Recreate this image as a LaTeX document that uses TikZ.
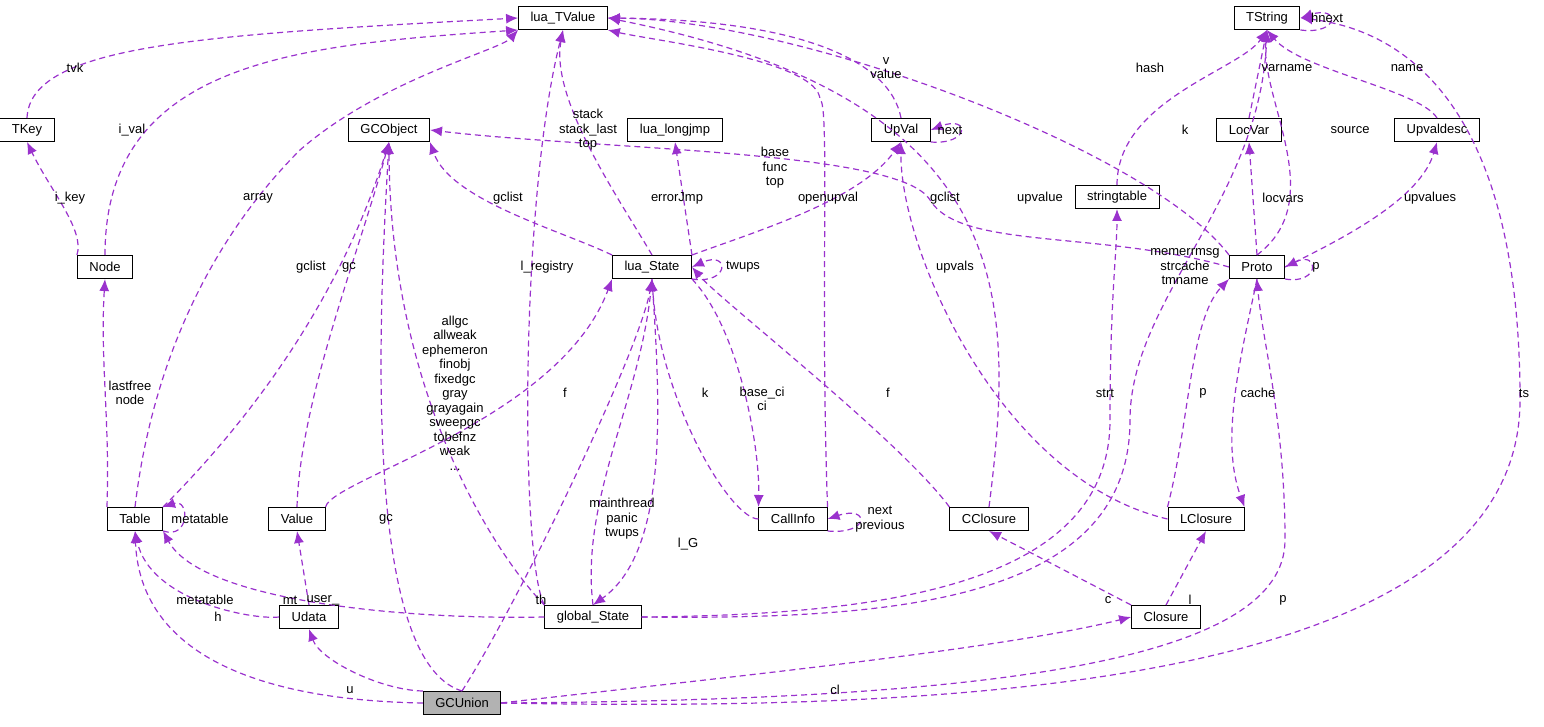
\documentclass[tikz,border=0pt]{standalone}
\usepackage{fontspec}
\setmainfont{Liberation Sans}
\usetikzlibrary{arrows.meta}
\definecolor{pe}{HTML}{9A32CD}
\begin{document}
\begin{tikzpicture}[x=1pt,y=-1pt,
 n/.style={draw,fill=white,line width=1pt,minimum height=23pt,inner xsep=12pt,inner ysep=0pt,font=\fontsize{13}{14.5}\selectfont},
 e/.style={pe,line width=1.2pt,dash pattern=on 6pt off 4pt,-{Latex[length=12pt,width=10pt]}},
 l/.style={font=\fontsize{13}{14.5}\selectfont,align=center,inner sep=0pt}]
\useasboundingbox (0,0) rectangle (1544,727);
\node[n] (tv) at (563,18) {lua\_TValue};
\node[n] (ts) at (1267,18) {TString};
\node[n] (tkey) at (27,130) {TKey};
\node[n] (gco) at (389,130) {GCObject};
\node[n] (lj) at (675,130) {lua\_longjmp};
\node[n] (uv) at (901,130) {UpVal};
\node[n] (lv) at (1249,130) {LocVar};
\node[n] (ud) at (1437,130) {Upvaldesc};
\node[n] (st) at (1117,197) {stringtable};
\node[n] (node) at (105,267) {Node};
\node[n] (ls) at (652,267) {lua\_State};
\node[n] (pr) at (1257,267) {Proto};
\node[n] (tab) at (135,519) {Table};
\node[n] (val) at (297,519) {Value};
\node[n] (ci) at (793,519) {CallInfo};
\node[n] (cc) at (989,519) {CClosure};
\node[n] (lc) at (1206,519) {LClosure};
\node[n] (udt) at (309,617) {Udata};
\node[n] (gs) at (593,617) {global\_State};
\node[n] (cl) at (1166,617) {Closure};
\node[n,fill=black!30] (gu) at (462,703) {GCUnion};

\draw[e] (tkey.north) .. controls (30,45) and (200,35) .. (tv.west);
\draw[e] (node.north) .. controls (105,60) and (300,45) .. (tv.south west);
\draw[e] (node.north west) .. controls (85,230) and (50,190) .. (tkey.south);
\draw[e] (tab.north west) .. controls (110,420) and (100,360) .. (node.south);
\draw[e] (tab.north) .. controls (150,380) and (200,250) .. (300,150) .. controls (380,80) and (500,50) .. (tv.south west);
\draw[e] (tab.north east) .. controls (250,420) and (340,300) .. (gco.south);
\draw[e] (tab.south east) .. controls (190,540) and (190,498) .. (tab.north east);
\draw[e] (val.north) .. controls (300,400) and (360,250) .. (gco.south);
\draw[e] (val.north east) .. controls (330,480) and (560,420) .. (ls.south west);
\draw[e] (udt.west) .. controls (250,620) and (150,600) .. (tab.south);
\draw[e] (udt.north) -- (val.south);
\draw[e] (gs.west) .. controls (400,620) and (200,600) .. (tab.south east);
\draw[e] (gs.north west) .. controls (500,560) and (390,400) .. (gco.south);
\draw[e] (gs.north west) .. controls (520,560) and (520,200) .. (tv.south);
\draw[e] (gs.north) .. controls (580,500) and (640,400) .. (ls.south);
\draw[e] (ls.south) .. controls (660,400) and (670,550) .. (gs.north);
\draw[e] (gs.east) .. controls (900,620) and (1130,600) .. (1130,420) .. controls (1130,300) and (1260,200) .. (ts.south);
\draw[e] (gs.east) .. controls (900,615) and (1110,580) .. (1110,420) .. controls (1110,300) and (1117,250) .. (st.south);
\draw[e] (ls.north) .. controls (620,200) and (550,100) .. (tv.south);
\draw[e] (ls.north west) .. controls (560,230) and (450,200) .. (gco.south east);
\draw[e] (ls.north east) -- (lj.south);
\draw[e] (ls.north east) .. controls (760,230) and (860,200) .. (uv.south);
\draw[e] (ls.south east) .. controls (730,285) and (730,250) .. (ls.east);
\draw[e] (ls.south east) .. controls (740,330) and (760,450) .. (ci.north west);
\draw[e] (ci.west) .. controls (730,519) and (660,400) .. (ls.south);
\draw[e] (ci.north east) .. controls (820,300) and (830,100) .. (820,100) .. controls (820,60) and (650,40) .. (tv.south east);
\draw[e] (ci.south east) .. controls (870,535) and (870,505) .. (ci.east);
\draw[e] (cc.north west) .. controls (900,440) and (720,300) .. (ls.east);
\draw[e] (cc.north) .. controls (1015,300) and (1020,100) .. (tv.east);
\draw[e] (uv.north) .. controls (890,60) and (800,20) .. (tv.east);
\draw[e] (uv.south east) .. controls (970,145) and (970,115) .. (uv.east);
\draw[e] (lc.west) .. controls (1000,480) and (900,250) .. (uv.south);
\draw[e] (lc.north west) .. controls (1190,420) and (1190,320) .. (pr.south west);
\draw[e] (pr.south) .. controls (1240,360) and (1220,440) .. (lc.north east);
\draw[e] (pr.west) .. controls (1100,230) and (960,250) .. (930,200) .. controls (900,150) and (600,150) .. (gco.east);
\draw[e] (pr.north west) .. controls (1150,150) and (800,20) .. (tv.east);
\draw[e] (pr.north) .. controls (1330,200) and (1260,100) .. (ts.south);
\draw[e] (pr.north) -- (lv.south);
\draw[e] (pr.east) .. controls (1340,240) and (1420,200) .. (ud.south);
\draw[e] (pr.south east) .. controls (1320,285) and (1320,250) .. (pr.east);
\draw[e] (lv.north) -- (ts.south);
\draw[e] (ud.north) .. controls (1420,90) and (1300,70) .. (ts.south);
\draw[e] (st.north) .. controls (1117,100) and (1240,70) .. (ts.south);
\draw[e] (ts.south east) .. controls (1340,35) and (1340,5) .. (ts.east);
\draw[e] (cl.north west) -- (cc.south);
\draw[e] (cl.north) -- (lc.south);
\draw[e] (gu.west) .. controls (250,700) and (140,650) .. (tab.south);
\draw[e] (gu.north west) .. controls (380,690) and (320,660) .. (udt.south);
\draw[e] (gu.north) .. controls (360,660) and (380,300) .. (gco.south);
\draw[e] (gu.north) .. controls (520,600) and (640,350) .. (ls.south);
\draw[e] (gu.east) .. controls (700,680) and (1000,650) .. (cl.west);
\draw[e] (gu.east) .. controls (1000,700) and (1285,660) .. (1285,540) .. controls (1285,420) and (1262,340) .. (pr.south);
\draw[e] (gu.east) .. controls (900,710) and (1520,700) .. (1520,400) .. controls (1520,100) and (1400,30) .. (ts.east);

\node[l] (a1) at (75,68) {tvk};
\node[l] (a2) at (132,130) {i\_val};
\node[l] (a3) at (70,198) {i\_key};
\node[l] (a4) at (130,393) {lastfree\\node};
\node[l] (a5) at (258,198) {array};
\node[l] (a6) at (311,267) {gclist};
\node[l] (a7) at (200,519) {metatable};
\node[l] (a8) at (349,267) {gc};
\node[l] (a9) at (565,393) {f};
\node[l] (a10) at (205,600) {metatable};
\node[l] (a11) at (323,600) {user\_};
\node[l] (a12) at (290,600) {mt};
\node[l] (a13) at (455,393) {allgc\\allweak\\ephemeron\\finobj\\fixedgc\\gray\\grayagain\\sweepgc\\tobefnz\\weak\\...};
\node[l] (a14) at (547,267) {l\_registry};
\node[l] (a15) at (622,519) {mainthread\\panic\\twups};
\node[l] (a16) at (1185,267) {memerrmsg\\strcache\\tmname};
\node[l] (a17) at (1105,393) {strt};
\node[l] (a18) at (688,544) {l\_G};
\node[l] (a19) at (588,130) {stack\\stack\_last\\top};
\node[l] (a20) at (508,198) {gclist};
\node[l] (a21) at (677,198) {errorJmp};
\node[l] (a22) at (828,198) {openupval};
\node[l] (a23) at (743,267) {twups};
\node[l] (a24) at (762,399) {base\_ci\\ci};
\node[l] (a25) at (705,393) {k};
\node[l] (a26) at (775,168) {base\\func\\top};
\node[l] (a27) at (880,519) {next\\previous};
\node[l] (a28) at (888,393) {f};
\node[l] (a29) at (1040,198) {upvalue};
\node[l] (a30) at (886,68) {v\\value};
\node[l] (a31) at (950,130) {next};
\node[l] (a32) at (955,267) {upvals};
\node[l] (a33) at (1203,393) {p};
\node[l] (a34) at (1258,393) {cache};
\node[l] (a35) at (945,198) {gclist};
\node[l] (a36) at (1185,130) {k};
\node[l] (a37) at (1350,130) {source};
\node[l] (a38) at (1283,198) {locvars};
\node[l] (a39) at (1430,198) {upvalues};
\node[l] (a40) at (1316,267) {p};
\node[l] (a41) at (1287,68) {varname};
\node[l] (a42) at (1407,68) {name};
\node[l] (a43) at (1150,68) {hash};
\node[l] (a44) at (1327,18) {hnext};
\node[l] (a45) at (1108,600) {c};
\node[l] (a46) at (1190,600) {l};
\node[l] (a47) at (218,617) {h};
\node[l] (a48) at (350,690) {u};
\node[l] (a49) at (386,519) {gc};
\node[l] (a50) at (541,600) {th};
\node[l] (a51) at (835,690) {cl};
\node[l] (a52) at (1283,600) {p};
\node[l] (a53) at (1524,393) {ts};
\end{tikzpicture}
\end{document}
